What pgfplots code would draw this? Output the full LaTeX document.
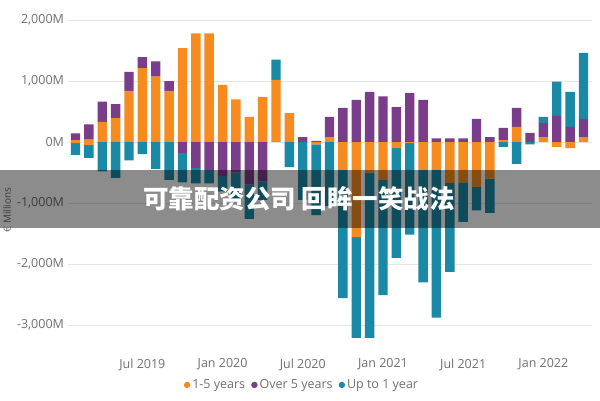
\documentclass[border=0pt]{standalone}
\usepackage{fontspec}
\setmainfont{Open Sans}
\newfontfamily\cjk{Noto Sans CJK SC}
\usepackage{pgfplots}
\usepackage{pgfplotstable}
\pgfplotsset{compat=1.18}
\definecolor{c1}{HTML}{F68B1F}
\definecolor{c2}{HTML}{7A3D8A}
\definecolor{c3}{HTML}{1A89A6}
\definecolor{txt}{HTML}{707070}
\definecolor{gridc}{HTML}{E6E6E6}

\pgfplotstableread{
i o p t on pn tn
0 30 110 0 -20 0 -190
1 40 250 0 -50 0 -210
2 330 330 0 0 0 -480
3 390 230 0 0 0 -590
4 840 310 0 0 0 -300
5 1210 180 0 0 0 -200
6 1070 250 0 0 0 -440
7 840 160 0 0 0 -620
8 1540 0 0 0 -180 -480
9 1780 0 0 0 -430 -250
10 1780 0 0 0 -460 -220
11 935 0 0 0 -560 -250
12 700 0 0 0 -500 -450
13 410 0 0 0 -700 -560
14 740 0 0 0 -650 -300
15 1020 0 330 0 0 0
16 475 0 0 0 0 -410
17 0 80 0 0 0 -950
18 0 20 0 -40 0 -1160
19 80 330 0 0 0 -1050
20 0 560 0 -450 0 -2110
21 0 690 0 -1560 0 -1650
22 0 820 0 -500 0 -2710
23 0 750 0 -620 0 -1890
24 0 570 0 -100 0 -1800
25 0 800 0 -20 0 -1500
26 0 690 0 -460 0 -1840
27 0 60 0 -450 0 -2430
28 0 60 0 -670 0 -1460
29 0 60 0 -660 0 -650
30 0 380 0 -740 0 -380
31 0 80 0 -600 0 -560
32 30 200 0 0 0 -80
33 250 310 0 0 0 -360
34 0 150 0 0 0 -40
35 80 230 100 0 0 0
36 0 430 560 -80 0 0
37 0 250 570 -100 0 0
38 80 300 1080 0 0 0
}\data

\pgfplotsset{base/.style={scale only axis, width=524pt, height=341.6pt,
  at={(67.5pt,50.6pt)}, anchor=south west,
  xmin=-0.6, xmax=38.6, ymin=-3400, ymax=2200,
  ybar stacked, bar width=9.4pt,
  axis line style={draw=none}, major tick length=0pt}}

\begin{document}
\begin{tikzpicture}[x=1pt,y=1pt]
\useasboundingbox (0,0) rectangle (600,400);
\fill[white] (0,0) rectangle (600,400);
\begin{axis}[base,
  ytick={-3000,-2000,-1000,0,1000,2000},
  yticklabels={{-3,000M},{-2,000M},{-1,000M},{0M},{1,000M},{2,000M}},
  xtick={5,11,17,23,29,35},
  xticklabels={Jul 2019,Jan 2020,Jul 2020,Jan 2021,Jul 2021,Jan 2022},
  ymajorgrids, grid style={gridc, line width=0.8pt},
  tick label style={text=txt, font=\fontsize{12.5}{14}\selectfont},
  xticklabel style={yshift=-6pt},
  yticklabel style={xshift=0pt},
  legend image code/.code={\fill[#1,draw=none] (0pt,0pt) circle (3.2pt);},
  legend style={at={(0.4475,-0.104)}, anchor=center, draw=none, fill=none,
    legend columns=3, font=\fontsize{12.5}{14}\selectfont, text=txt,
    /tikz/every even column/.append style={column sep=4pt},
    /tikz/every odd column/.append style={column sep=0pt},
    inner sep=0pt},
  legend cell align=left,
]
\addplot[fill=c1, draw=none] table[x=i,y=o]{\data};
\addplot[fill=c2, draw=none] table[x=i,y=p]{\data};
\addplot[fill=c3, draw=none] table[x=i,y=t]{\data};
\legend{1-5 years,Over 5 years,Up to 1 year}
\end{axis}
\begin{axis}[base, hide axis]
\addplot[fill=c1, draw=none] table[x=i,y=on]{\data};
\addplot[fill=c2, draw=none] table[x=i,y=pn]{\data};
\addplot[fill=c3, draw=none] table[x=i,y=tn]{\data};
\end{axis}
\node[rotate=90, text=txt, font=\fontsize{10}{11}\selectfont] at (7,190) {€ Millions};
\fill[black, opacity=0.45] (0,172) rectangle (600,230);
\node[text=white, font=\cjk\bfseries\fontsize{25.5}{26}\selectfont] at (299,201) {可靠配资公司 回眸一笑战法};
\end{tikzpicture}
\end{document}
